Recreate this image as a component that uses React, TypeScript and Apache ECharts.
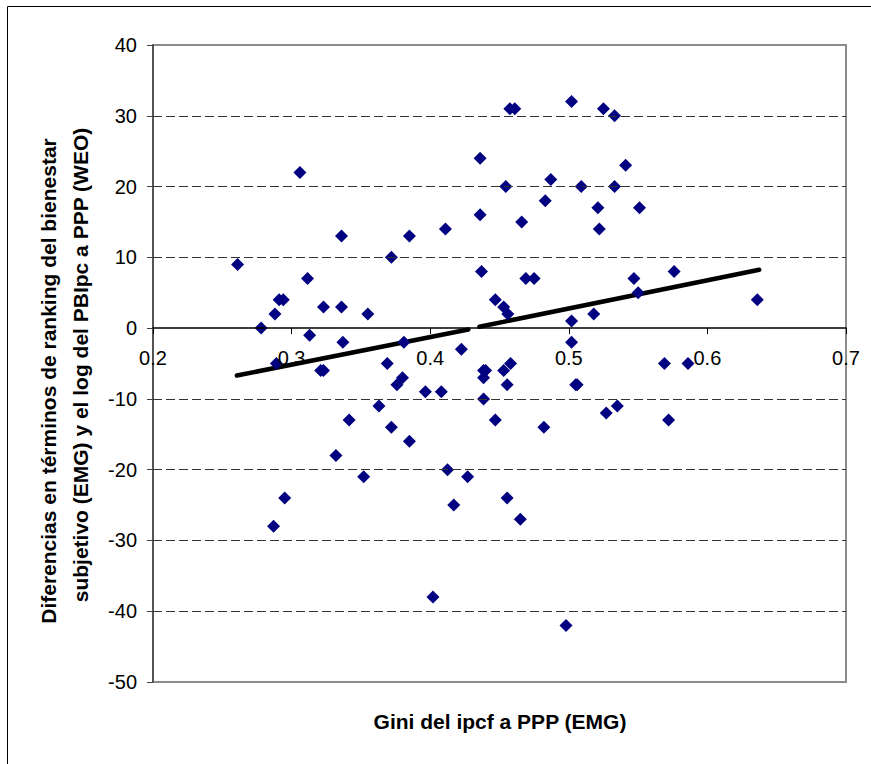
import React, { useEffect, useRef } from "react";
import * as echarts from "echarts";

// Gini del ipcf a PPP (EMG)
const giniX = [
  0.261, 0.306, 0.436, 0.436, 0.336, 0.385, 0.411, 0.372, 0.437, 0.3115,
  0.291, 0.294, 0.447, 0.288, 0.323, 0.336, 0.355, 0.278, 0.313, 0.337,
  0.381, 0.4225, 0.4575, 0.461, 0.502, 0.525, 0.533, 0.541, 0.4545, 0.487,
  0.509, 0.533, 0.483, 0.521, 0.551, 0.466, 0.522, 0.469, 0.475, 0.547,
  0.576, 0.453, 0.456, 0.55, 0.502, 0.518, 0.502, 0.636, 0.569, 0.586,
  0.527, 0.535, 0.572, 0.289, 0.321, 0.323, 0.369, 0.38, 0.376, 0.3965,
  0.408, 0.4385, 0.44, 0.4385, 0.4385, 0.447, 0.363, 0.3415, 0.372, 0.385,
  0.332, 0.352, 0.4125, 0.427, 0.417, 0.295, 0.287, 0.402, 0.453, 0.458,
  0.4555, 0.482, 0.505, 0.506, 0.4555, 0.465, 0.498,
];

// Diferencias en ranking (bienestar subjetivo vs log PBIpc)
const diffY = [
  9, 22, 24, 16, 13, 13, 14, 10, 8, 7,
  4, 4, 4, 2, 3, 3, 2, 0, -1, -2,
  -2, -3, 31, 31, 32, 31, 30, 23, 20, 21,
  20, 20, 18, 17, 17, 15, 14, 7, 7, 7,
  8, 3, 2, 5, 1, 2, -2, 4, -5, -5,
  -12, -11, -13, -5, -6, -6, -5, -7, -8, -9,
  -9, -6, -6, -7, -10, -13, -11, -13, -14, -16,
  -18, -21, -20, -21, -25, -24, -28, -38, -6, -5,
  -8, -14, -8, -8, -24, -27, -42,
];

// Trend line (two segments, broken as in the original)
const trendSeg1X = [0.2605, 0.4275];
const trendSeg1Y = [-6.7, -0.2];
const trendSeg2X = [0.4355, 0.6374];
const trendSeg2Y = [0.2, 8.25];

const xMin = 0.2;
const xMax = 0.7;
const xStep = 0.1;
const yMin = -50;
const yMax = 40;
const yStep = 10;

const yTitleLine1 = "Diferencias en términos de ranking del bienestar";
const yTitleLine2 = "subjetivo (EMG) y el log del PBIpc a PPP (WEO)";
const xTitle = "Gini del ipcf a PPP (EMG)";

const FONT = "'Liberation Sans', Arial, sans-serif";

const GRID_LEFT = 153;
const GRID_TOP = 45;
const GRID_W = 693;
const GRID_H = 637;

export default function App() {
  const ref = useRef<HTMLDivElement>(null);

  useEffect(() => {
    if (!ref.current) return;
    const chart = echarts.init(ref.current, null, { renderer: "svg" });

    const points = giniX.map((x, i) => [x, diffY[i]]);
    const seg1 = trendSeg1X.map((x, i) => [x, trendSeg1Y[i]]);
    const seg2 = trendSeg2X.map((x, i) => [x, trendSeg2Y[i]]);

    // place the x axis at y = 0 by shifting it up from the grid bottom
    const zeroOffset = -((0 - yMin) / (yMax - yMin)) * GRID_H;

    const splitColors = [
      "rgba(0,0,0,0)",
      "#333333",
      "#333333",
      "#333333",
      "#333333",
      "rgba(0,0,0,0)",
      "#333333",
      "#333333",
      "#333333",
      "rgba(0,0,0,0)",
    ];

    chart.setOption({
      animation: false,
      backgroundColor: "#ffffff",
      textStyle: { fontFamily: FONT },
      grid: {
        left: GRID_LEFT,
        top: GRID_TOP,
        width: GRID_W,
        height: GRID_H,
        show: true,
        borderColor: "#8c8c8c",
        borderWidth: 2,
        backgroundColor: "rgba(0,0,0,0)",
        containLabel: false,
      },
      xAxis: {
        type: "value",
        min: xMin,
        max: xMax,
        interval: xStep,
        position: "bottom",
        offset: zeroOffset,
        z: 5,
        axisLine: { show: true, onZero: false, lineStyle: { color: "#000", width: 1.5 } },
        axisTick: { show: true, inside: false, length: 6, lineStyle: { color: "#000", width: 1 } },
        axisLabel: {
          margin: 20,
          fontSize: 20,
          color: "#000",
          fontFamily: FONT,
          formatter: (v: number) => v.toFixed(1),
        },
        splitLine: { show: false },
      },
      yAxis: {
        type: "value",
        min: yMin,
        max: yMax,
        interval: yStep,
        z: 5,
        axisLine: { show: true, onZero: false, lineStyle: { color: "#404040", width: 1.5 } },
        axisTick: { show: true, inside: false, length: 6, lineStyle: { color: "#404040", width: 1 } },
        axisLabel: {
          margin: 16,
          fontSize: 20,
          color: "#000",
          fontFamily: FONT,
        },
        splitLine: {
          show: true,
          lineStyle: { color: splitColors, type: [9, 4], width: 1 },
        },
      },
      series: [
        {
          type: "line",
          data: seg1,
          showSymbol: false,
          symbol: "none",
          lineStyle: { color: "#000", width: 4.5, cap: "round" },
          z: 3,
        },
        {
          type: "line",
          data: seg2,
          showSymbol: false,
          symbol: "none",
          lineStyle: { color: "#000", width: 4.5, cap: "round" },
          z: 3,
        },
        {
          type: "scatter",
          data: points,
          symbol: "diamond",
          symbolSize: [13, 13],
          itemStyle: { color: "#000080", opacity: 1 },
          z: 4,
        },
      ],
      graphic: [
        {
          type: "rect",
          shape: { x: 7.5, y: 6.5, width: 900, height: 800 },
          style: { fill: "none", stroke: "#000", lineWidth: 1 },
          silent: true,
        },
        {
          type: "text",
          x: 48,
          y: 381,
          rotation: Math.PI / 2,
          style: {
            text: yTitleLine1,
            font: `bold 21px ${FONT}`,
            fill: "#000",
            align: "center",
            verticalAlign: "middle",
          },
        },
        {
          type: "text",
          x: 80,
          y: 365,
          rotation: Math.PI / 2,
          style: {
            text: yTitleLine2,
            font: `bold 21px ${FONT}`,
            fill: "#000",
            align: "center",
            verticalAlign: "middle",
          },
        },
        {
          type: "text",
          x: 500,
          y: 721,
          style: {
            text: xTitle,
            font: `bold 21px ${FONT}`,
            fill: "#000",
            align: "center",
            verticalAlign: "middle",
          },
        },
      ],
    });

    return () => chart.dispose();
  }, []);

  return (
    <div
      ref={ref}
      style={{ position: "absolute", left: 0, top: 0, width: 871, height: 764, background: "#fff" }}
    />
  );
}
